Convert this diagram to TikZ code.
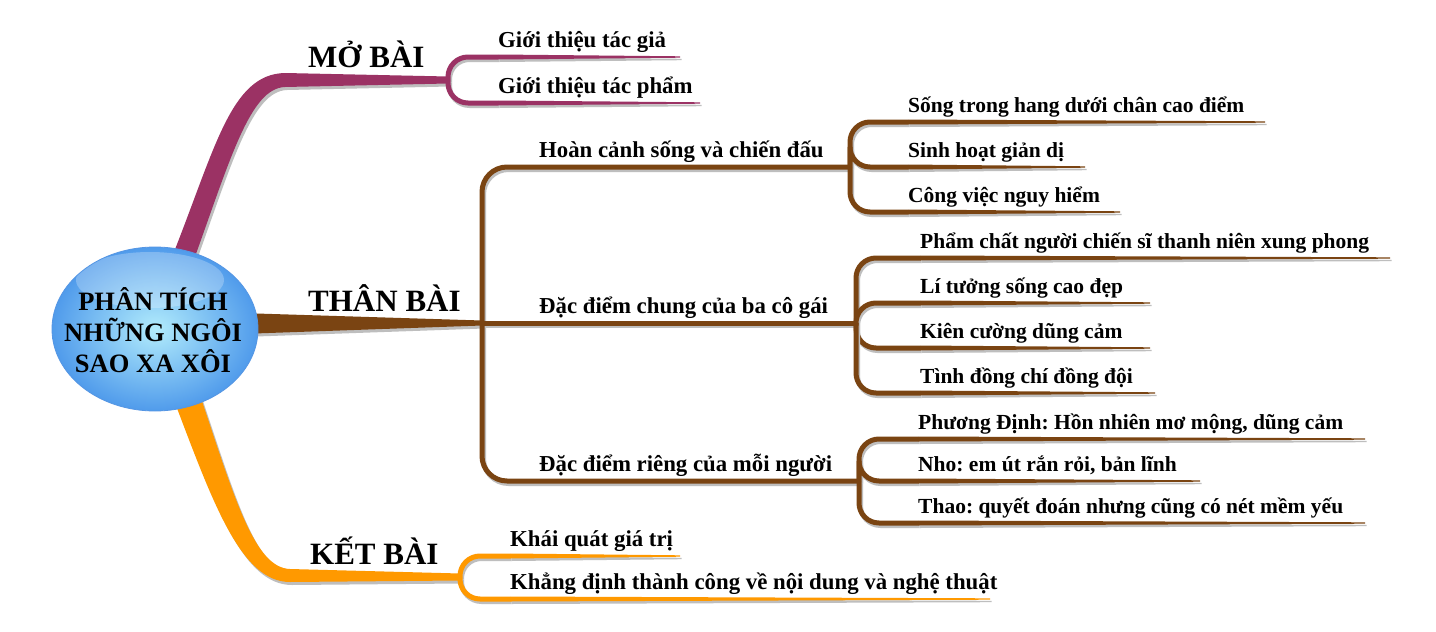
\documentclass[tikz,border=0pt]{standalone}
\usepackage{fontspec}
\setmainfont{Liberation Serif}
\usetikzlibrary{calc}
\frenchspacing
\definecolor{mopurple}{RGB}{155,50,100}
\definecolor{brownc}{RGB}{122,68,18}
\definecolor{orangec}{RGB}{255,153,0}
\definecolor{shadowc}{RGB}{190,190,190}
\definecolor{ballin}{RGB}{178,236,252}
\definecolor{ballout}{RGB}{80,155,235}
\definecolor{ballrim}{RGB}{85,150,228}
\tikzset{
  leaflbl/.style={anchor=base west, inner sep=0pt, font=\bfseries\fontsize{21.5}{25}\selectfont},
  midlbl/.style={anchor=base west, inner sep=0pt, font=\bfseries\fontsize{22.8}{26}\selectfont},
  mainlbl/.style={anchor=base west, inner sep=0pt, font=\bfseries\fontsize{31}{36}\selectfont},
  link/.style={line width=5pt, rounded corners=20pt},
  shadowlayer/.style={transform canvas={shift={(1.5,2.5)}}},
}
% #1 colour, #2 junction, #3 text node
\newcommand\mmpathpart[3]{%
  \draw[link,#1] (#2) |- (#3u);
  \fill[#1] ($(#3u)+(0,2.5)$) -- ($(#3e)+(0,0.7)$) -- ($(#3e)+(0,-0.7)$) -- ($(#3u)+(0,-2.5)$) -- cycle;}
% #1 colour, #2 junction, #3 text node, #4 end x
\newcommand\mmunder[4]{%
  \path (#3.base west) ++(0,10) coordinate (#3u);
  \coordinate (#3x) at (#4,0);
  \coordinate (#3e) at (#3u -| #3x);
  \begin{scope}[shadowlayer]\mmpathpart{shadowc}{#2}{#3}\end{scope}
  \mmpathpart{#1}{#2}{#3}}
\begin{document}
\begin{tikzpicture}[x=1pt,y=-1pt]
\fill[white] (0,0) rectangle (1436,632);
\useasboundingbox (0,0) rectangle (1436,632);

% junctions
\coordinate (J1) at (448,80);
\coordinate (J2) at (482,323);
\coordinate (J3) at (460,577);
\coordinate (J21) at (850,167);
\coordinate (J22) at (856,323);
\coordinate (J23) at (859,481);

% main branches (shadow, then colour)
\foreach \cc/\sh in {shadowc/{(2,3)}, mopurple/{(0,0)}}{
  \fill[\cc, shift=\sh] (170,262) .. controls (215,150) and (230,74) .. (285,73) -- (448,76.5) -- (448,83.5)
     -- (285,87) .. controls (250,88) and (230,160) .. (192,265) -- cycle;
}
\foreach \cc/\sh in {shadowc/{(2,3)}, brownc/{(0,0)}}{
  \fill[\cc, shift=\sh] (240,313) -- (482,320.5) -- (482,325.5) -- (240,334) -- cycle;
}
\foreach \cc/\sh in {shadowc/{(2,3)}, orangec/{(0,0)}}{
  \fill[\cc, shift=\sh] (172,395) .. controls (212,500) and (240,582) .. (290,582) -- (460,580.5)
     -- (460,573.5) -- (290,569) .. controls (255,568) and (235,500) .. (200,395) -- cycle;
}

% second-level connectors of THÂN BÀI
\begin{scope}[shadowlayer]
  \draw[link, shadowc, rounded corners=25pt] (J21) -| (J2) |- (J23);
  \draw[link, shadowc] (J2) -- (J22);
\end{scope}
\draw[link, brownc, rounded corners=25pt] (J21) -| (J2) |- (J23);
\draw[link, brownc] (J2) -- (J22);

% centre
\shade[inner color=ballin, outer color=ballout] (155,329) ellipse [x radius=103, y radius=82];
\fill[white, opacity=0.25] (150,280) ellipse [x radius=74, y radius=28];
\draw[ballrim, line width=0.8pt] (155,329) ellipse [x radius=103, y radius=82];
\node[align=center, inner sep=0pt, font=\bfseries\fontsize{26.5}{31}\selectfont] (C) at (153,330)
  {PHÂN TÍCH\\NHỮNG NGÔI\\SAO XA XÔI};

% main labels
\node[mainlbl] (mo) at (308,67) {MỞ BÀI};
\node[mainlbl] (than) at (308,311) {THÂN BÀI};
\node[mainlbl] (ket) at (310,564) {KẾT BÀI};

% level-2 labels
\node[midlbl] (a1) at (498,47) {Giới thiệu tác giả};
\node[midlbl] (a2) at (498,93) {Giới thiệu tác phẩm};
\node[midlbl] (b1) at (539,157) {Hoàn cảnh sống và chiến đấu};
\node[midlbl] (b2) at (539,313) {Đặc điểm chung của ba cô gái};
\node[midlbl] (b3) at (539,471) {Đặc điểm riêng của mỗi người};
\node[midlbl] (c1) at (510,546) {Khái quát giá trị};
\node[midlbl] (c2) at (510,589) {Khẳng định thành công về nội dung và nghệ thuật};

% leaves
\node[leaflbl] (b11) at (908,112) {Sống trong hang dưới chân cao điểm};
\node[leaflbl] (b12) at (908,157) {Sinh hoạt giản dị};
\node[leaflbl] (b13) at (908,202) {Công việc nguy hiểm};
\node[leaflbl] (b21) at (920,248) {Phẩm chất người chiến sĩ thanh niên xung phong};
\node[leaflbl] (b22) at (920,293) {Lí tưởng sống cao đẹp};
\node[leaflbl] (b23) at (920,338) {Kiên cường dũng cảm};
\node[leaflbl] (b24) at (920,383) {Tình đồng chí đồng đội};
\node[leaflbl] (b31) at (918,429) {Phương Định: Hồn nhiên mơ mộng, dũng cảm};
\node[leaflbl] (b32) at (918,471) {Nho: em út rắn rỏi, bản lĩnh};
\node[leaflbl] (b33) at (918,513) {Thao: quyết đoán nhưng cũng có nét mềm yếu};

% underlines / connectors
\mmunder{mopurple}{J1}{a1}{680}
\mmunder{mopurple}{J1}{a2}{700}
\mmunder{brownc}{J21}{b11}{1265}
\mmunder{brownc}{J21}{b12}{1085}
\mmunder{brownc}{J21}{b13}{1120}
\mmunder{brownc}{J22}{b21}{1390}
\mmunder{brownc}{J22}{b22}{1150}
\mmunder{brownc}{J22}{b23}{1150}
\mmunder{brownc}{J22}{b24}{1155}
\mmunder{brownc}{J23}{b31}{1365}
\mmunder{brownc}{J23}{b32}{1200}
\mmunder{brownc}{J23}{b33}{1365}
\mmunder{orangec}{J3}{c1}{680}
\mmunder{orangec}{J3}{c2}{990}
\end{tikzpicture}
\end{document}
